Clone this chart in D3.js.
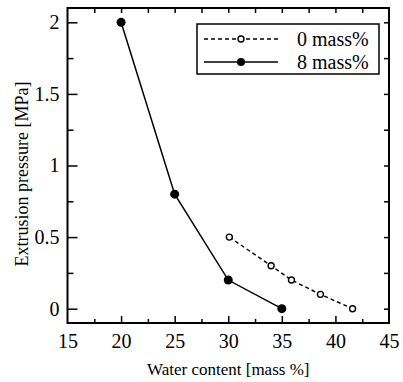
<!DOCTYPE html>
<html>
<head>
<meta charset="utf-8">
<script src="https://cdn.jsdelivr.net/npm/d3@7"></script>
<style>
  body { margin: 0; background: #fff; }
  svg text { font-family: "Liberation Serif", "Times New Roman", serif; fill: #000; }
</style>
</head>
<body>
<svg id="chart" width="403" height="382"></svg>
<script>
// data
const xTicks = [15, 20, 25, 30, 35, 40, 45]
const yTicks = [0, 0.5, 1, 1.5, 2]
const seriesNames = ['0 mass%', '8 mass%']
const water0 = [30.1, 34, 35.9, 38.6, 41.6]
const pressure0 = [0.5, 0.3, 0.2, 0.1, 0.0]
const water8 = [20, 25, 30, 35]
const pressure8 = [2.0, 0.8, 0.2, 0.0]

const serif = '"Liberation Serif", "Times New Roman", serif'
const svg = d3.select('#chart')
const plotL = 67.5, plotR = 389, plotT = 8, plotB = 323

const x = d3.scaleLinear().domain([15, 45]).range([plotL, plotR])
const y = d3.scaleLinear().domain([-0.1, 2.1]).range([plotB, plotT])

const xMinor = d3.range(17.5, 45, 5)
const yMinor = d3.range(0.25, 2.1, 0.5)

// bottom axis
svg.append('g')
  .attr('transform', `translate(0,${plotB})`)
  .call(d3.axisBottom(x).tickValues(xTicks).tickSize(-7).tickPadding(11).tickFormat(d3.format('d')))
  .call(g => g.selectAll('.tick').filter(d => d === 15 || d === 45).select('line').remove())
svg.append('g')
  .attr('transform', `translate(0,${plotB})`)
  .call(d3.axisBottom(x).tickValues(xMinor).tickSize(-4).tickFormat(''))

// left axis
svg.append('g')
  .attr('transform', `translate(${plotL},0)`)
  .call(d3.axisLeft(y).tickValues(yTicks).tickSize(-10).tickPadding(8).tickFormat(d3.format('')))
svg.append('g')
  .attr('transform', `translate(${plotL},0)`)
  .call(d3.axisLeft(y).tickValues(yMinor).tickSize(-6).tickFormat(''))

// top + right ticks, all short
svg.append('g')
  .attr('transform', `translate(0,${plotT})`)
  .call(d3.axisTop(x).tickValues(d3.range(17.5, 45, 2.5)).tickSize(-5).tickFormat(''))
svg.append('g')
  .attr('transform', `translate(${plotR},0)`)
  .call(d3.axisRight(y).tickValues(d3.range(0, 2.01, 0.25)).tickSize(-5).tickFormat(''))

svg.selectAll('.domain').remove()
svg.selectAll('g').attr('font-family', serif).attr('font-size', 20)
svg.selectAll('.tick line').attr('stroke', '#000').attr('stroke-width', 1.5)
svg.selectAll('.tick text').attr('font-family', serif).attr('font-size', 20)

// frame
svg.append('rect')
  .attr('x', plotL).attr('y', plotT)
  .attr('width', plotR - plotL).attr('height', plotB - plotT)
  .attr('fill', 'none').attr('stroke', '#000').attr('stroke-width', 2)

// axis titles
svg.append('text')
  .attr('x', (plotL + plotR) / 2).attr('y', 375)
  .attr('text-anchor', 'middle')
  .attr('font-family', serif).attr('font-size', 17)
  .text('Water content [mass %]')
svg.append('text')
  .attr('transform', 'translate(28,174) rotate(-90)')
  .attr('text-anchor', 'middle')
  .attr('font-family', serif).attr('font-size', 18)
  .text('Extrusion pressure [MPa]')

const line = d3.line().x(d => x(d[0])).y(d => y(d[1]))
const pts0 = water0.map((w, i) => [w, pressure0[i]])
const pts8 = water8.map((w, i) => [w, pressure8[i]])

svg.append('path')
  .datum(pts0)
  .attr('d', line)
  .attr('fill', 'none').attr('stroke', '#000').attr('stroke-width', 1.4)
  .attr('stroke-dasharray', '4,3')
svg.append('path')
  .datum(pts8)
  .attr('d', line)
  .attr('fill', 'none').attr('stroke', '#000').attr('stroke-width', 1.5)

svg.selectAll('.open')
  .data(pts0)
  .join('circle')
  .attr('class', 'open')
  .attr('cx', d => x(d[0])).attr('cy', d => y(d[1]))
  .attr('r', 3)
  .attr('fill', '#fff').attr('stroke', '#000').attr('stroke-width', 1.4)
svg.selectAll('.filled')
  .data(pts8)
  .join('circle')
  .attr('class', 'filled')
  .attr('cx', d => x(d[0])).attr('cy', d => y(d[1]))
  .attr('r', 4.5)
  .attr('fill', '#000')

// legend
const legend = svg.append('g')
legend.append('rect')
  .attr('x', 197).attr('y', 24).attr('width', 182).attr('height', 50)
  .attr('fill', '#fff').attr('stroke', '#000').attr('stroke-width', 1.5)
const rows = legend.selectAll('.row')
  .data(seriesNames)
  .join('g')
  .attr('class', 'row')
  .attr('transform', (d, i) => `translate(0,${39 + i * 23})`)
rows.append('line')
  .attr('x1', 204).attr('x2', 278)
  .attr('stroke', '#000').attr('stroke-width', 1.4)
  .attr('stroke-dasharray', (d, i) => i === 0 ? '4,3' : null)
rows.append('circle')
  .attr('cx', 241)
  .attr('r', (d, i) => i === 0 ? 3 : 4)
  .attr('fill', (d, i) => i === 0 ? '#fff' : '#000')
  .attr('stroke', '#000').attr('stroke-width', (d, i) => i === 0 ? 1.4 : 0)
rows.append('text')
  .attr('x', 297).attr('y', 7)
  .attr('font-family', serif).attr('font-size', 20)
  .text(d => d)
</script>
</body>
</html>
